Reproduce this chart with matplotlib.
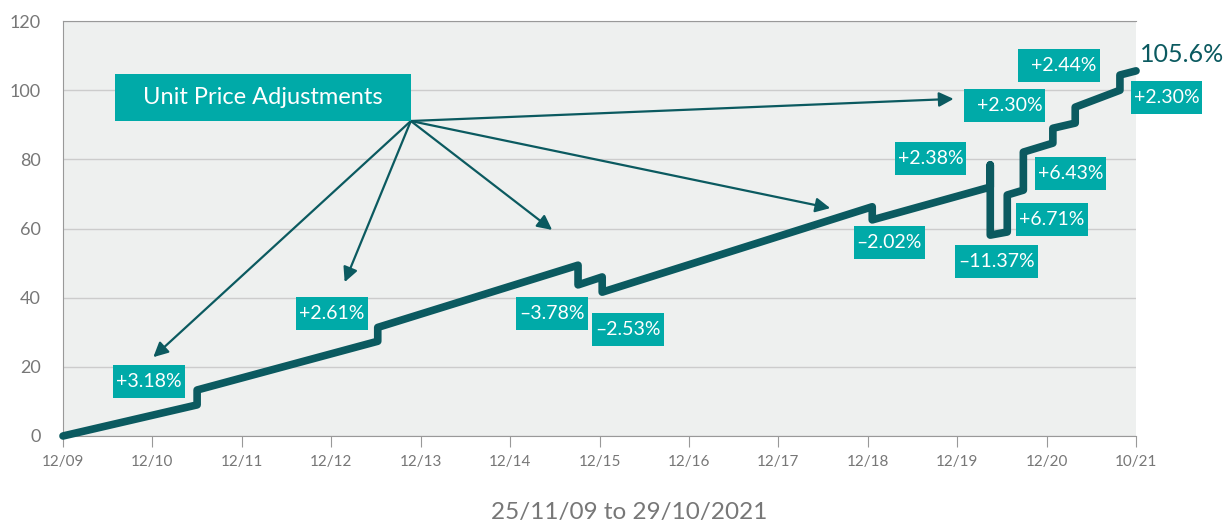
import matplotlib.pyplot as plt
from matplotlib.patches import Rectangle
from matplotlib.transforms import IdentityTransform

plt.rcParams['font.family'] = ['Lato', 'DejaVu Sans']

# Unit price index, x in years since 12/09 (tick positions)
x_vals = [0, 1.50, 1.50, 3.52, 3.52, 5.76, 5.76, 6.03, 6.03, 9.05, 9.05,
          10.37, 10.37, 10.37, 10.56, 10.56, 10.74, 10.74, 11.07, 11.07,
          11.32, 11.32, 11.82, 11.82, 12.0]
y_vals = [0, 9.0, 13.3, 27.4, 31.4, 49.4, 43.7, 46.0, 41.6, 66.3, 62.5,
          72.0, 78.4, 58.1, 59.0, 69.7, 71.1, 82.1, 84.7, 89.0,
          90.5, 95.1, 100.0, 104.4, 105.6]

tick_labels = ['12/09', '12/10', '12/11', '12/12', '12/13', '12/14', '12/15',
               '12/16', '12/17', '12/18', '12/19', '12/20', '10/21']

# adjustment labels: text, box centre (x, y)
adj_text = ['+3.18%', '+2.61%', '\u20133.78%', '\u20132.53%', '\u20132.02%', '+2.38%',
            '\u201311.37%', '+6.71%', '+6.43%', '  +2.30%', '  +2.44%', '+2.30%']
adj_x = [0.96, 3.01, 5.47, 6.32, 9.24, 9.70, 10.44, 11.06, 11.27, 10.53, 11.14, 12.34]
adj_y = [15.8, 35.5, 35.5, 30.8, 56.1, 80.2, 50.6, 62.7, 76.0, 95.5, 107.2, 97.8]

# arrows from the title box corner to targets
arrow_tx = [1.01, 3.15, 5.47, 8.58, 9.96]
arrow_ty = [22.8, 44.5, 59.6, 65.9, 97.5]

dark = '#0b5a60'
teal = '#00aaa8'
grey = '#777777'

fig = plt.figure(figsize=(12.28, 5.27), dpi=100)
ax = fig.add_axes([0.0513, 0.1727, 0.8738, 0.7873])
ax.set_facecolor('#eef0ef')

ax.plot(x_vals, y_vals, color=dark, lw=5.5, solid_capstyle='round',
        solid_joinstyle='round', clip_on=False, zorder=3)

labels = []
for t, x, y in zip(adj_text, adj_x, adj_y):
    labels.append(ax.text(x, y, t, ha='center', va='center', color='white',
                          fontsize=14, clip_on=False, zorder=5))

ax.add_patch(Rectangle((0.58, 91.1), 3.31, 13.6, fc=teal, ec='none', zorder=4))
ax.text(2.235, 97.9, 'Unit Price Adjustments', ha='center', va='center',
        color='white', fontsize=17, zorder=5)

for tx, ty in zip(arrow_tx, arrow_ty):
    ax.annotate('', xy=(tx, ty), xytext=(3.89, 91.1),
                arrowprops=dict(arrowstyle='-|>', color=dark, lw=1.6,
                                mutation_scale=22, shrinkA=0, shrinkB=0),
                zorder=2)

ax.text(12.04, 110.3, '105.6%', ha='left', va='center', color=dark,
        fontsize=18, clip_on=False)

ax.set_xlim(0, 12)
ax.set_ylim(0, 120)
ax.set_xticks(range(13))
ax.set_xticklabels(tick_labels)
ax.set_yticks(range(0, 121, 20))
ax.tick_params(axis='y', length=0, pad=16, labelsize=13, labelcolor=grey)
ax.tick_params(axis='x', length=8, color='#999999', pad=6, labelsize=11,
               labelcolor=grey)
ax.grid(axis='y', color='#cccccc', lw=1)
ax.set_axisbelow(True)
ax.spines['right'].set_visible(False)
for s in ['left', 'top', 'bottom']:
    ax.spines[s].set_color('#999999')

fig.text(0.512, 0.027, '25/11/09 to 29/10/2021', ha='center', va='center',
         fontsize=17.5, color=grey)

# teal boxes behind the labels, a fixed 33 px tall
fig.canvas.draw()
renderer = fig.canvas.get_renderer()
for lab in labels:
    bb = lab.get_window_extent(renderer)
    cy = (bb.y0 + bb.y1) / 2
    ax.add_patch(Rectangle((bb.x0 - 3, cy - 16.5), bb.width + 6, 33,
                           transform=IdentityTransform(), fc=teal, ec='none',
                           clip_on=False, zorder=4))

fig.savefig('out.png', dpi=100)
